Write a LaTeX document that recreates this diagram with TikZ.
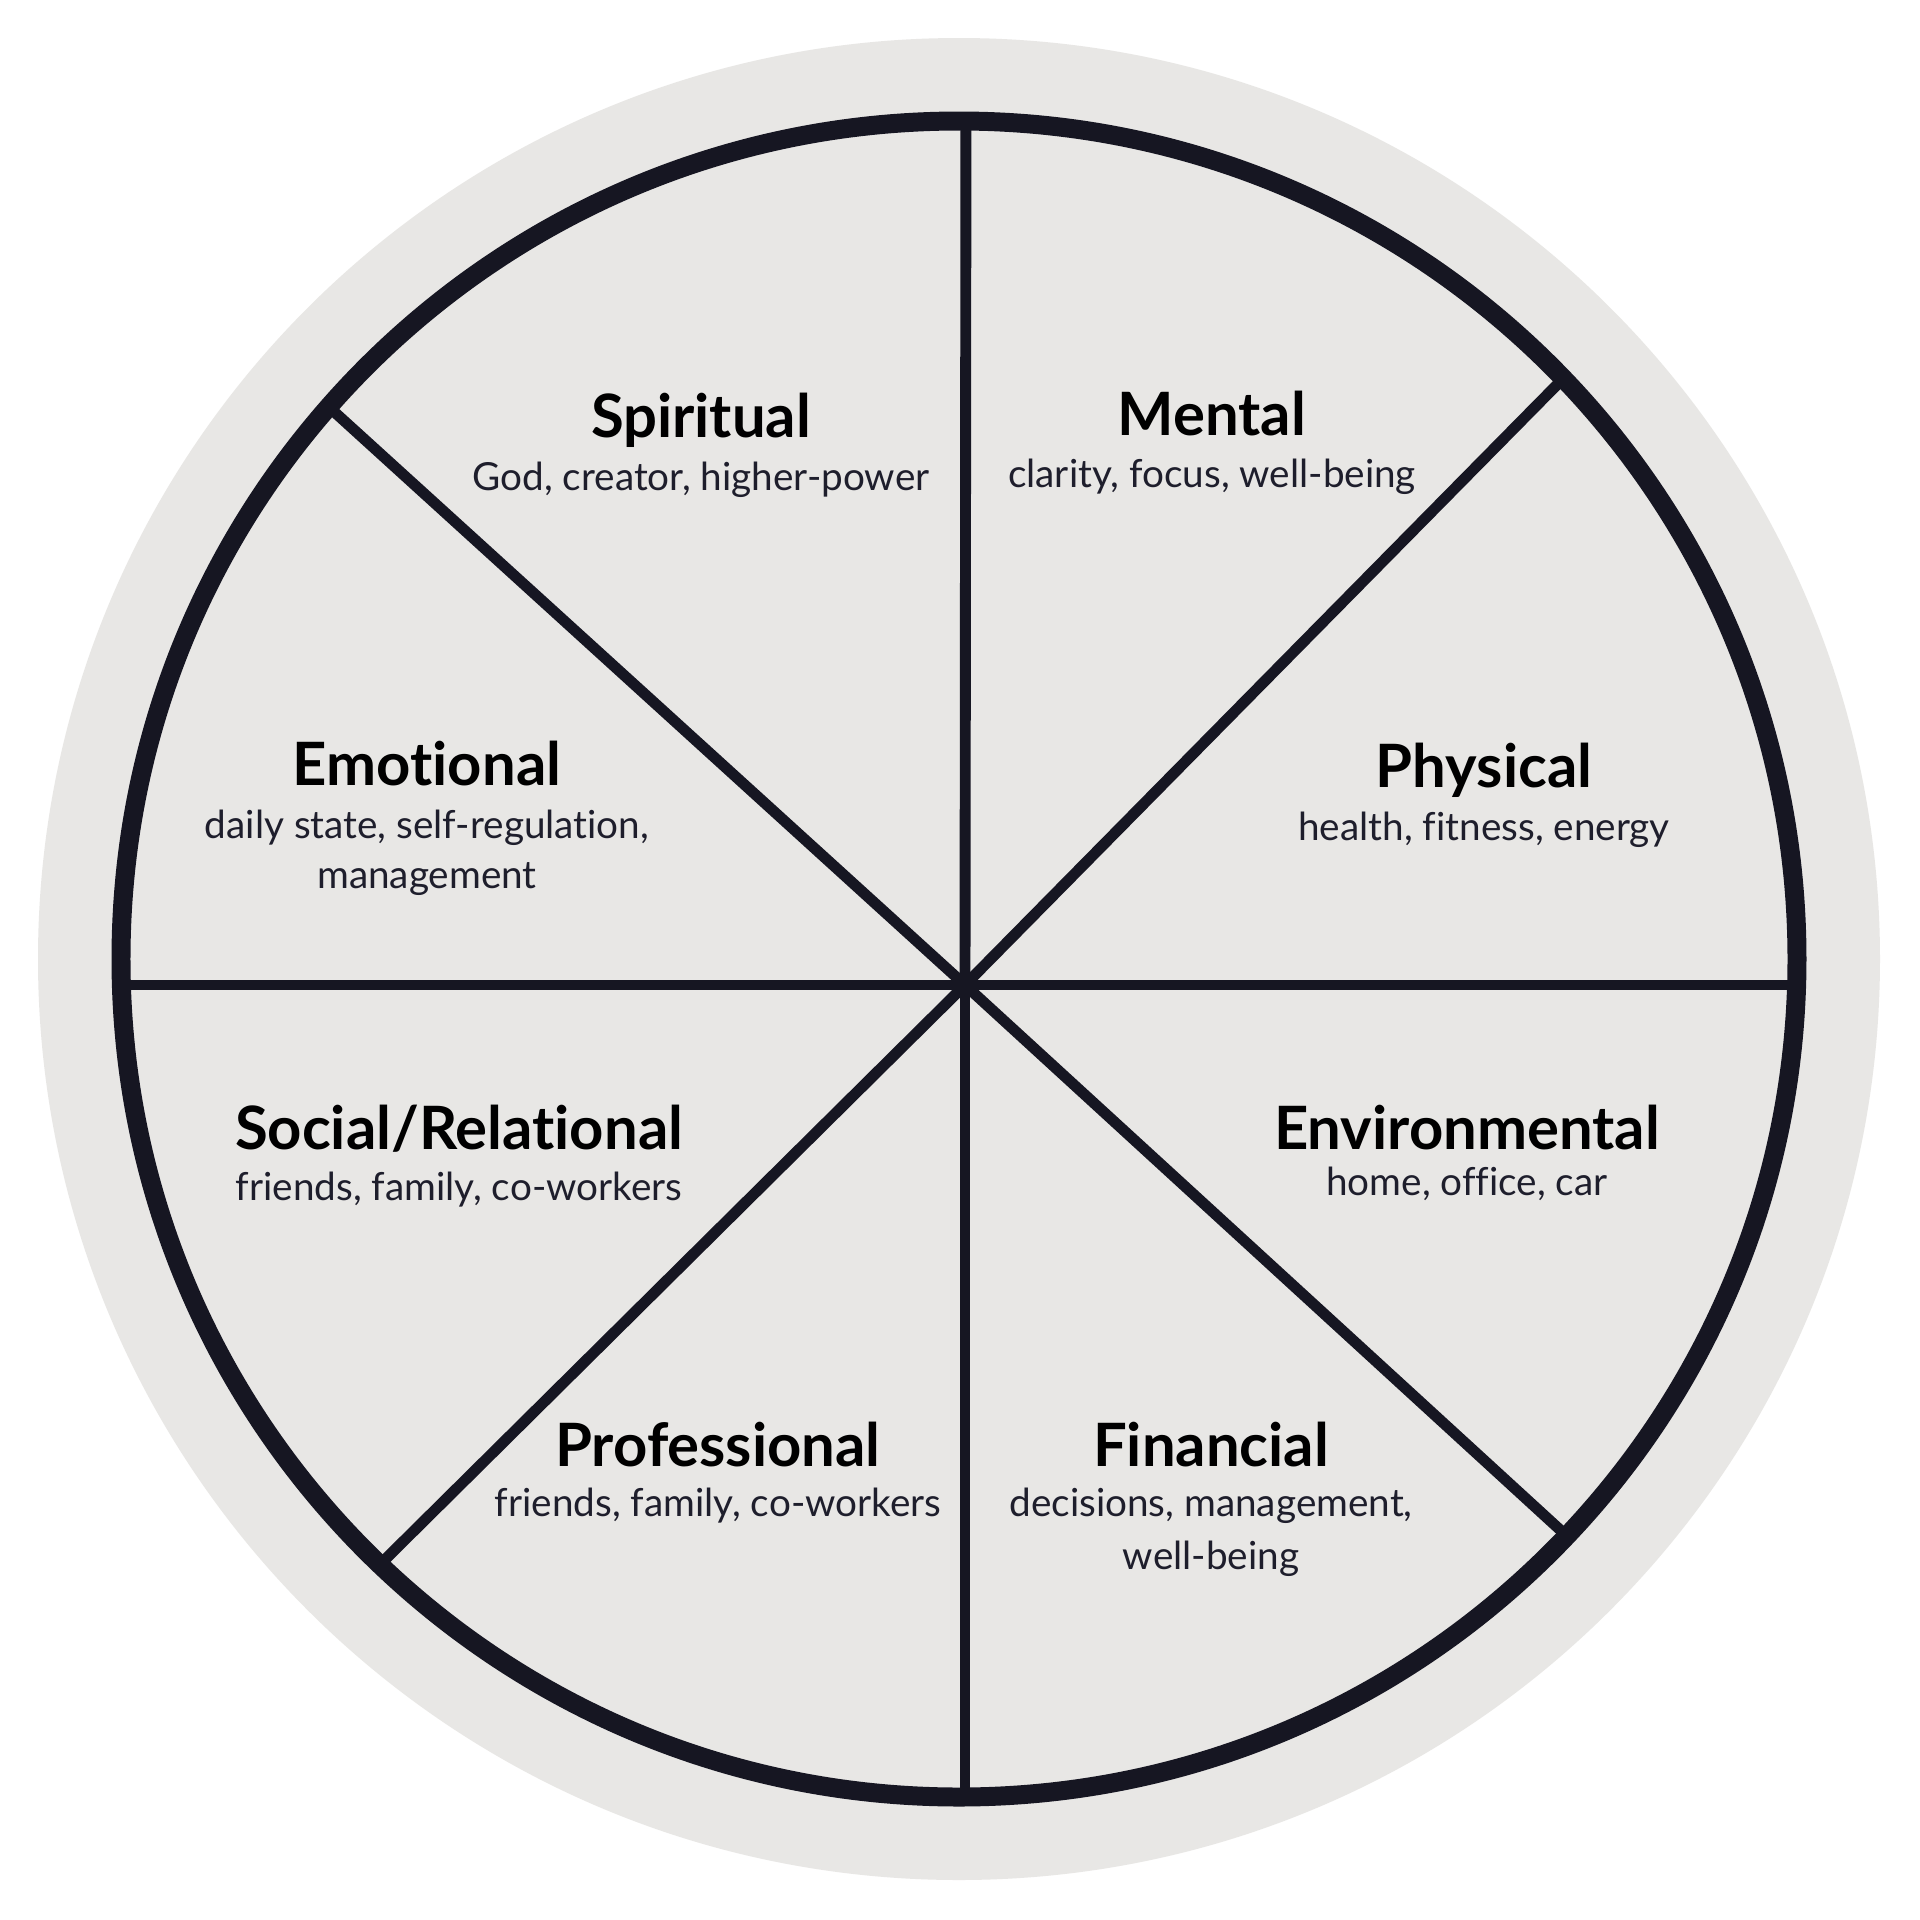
\documentclass[tikz,border=0pt]{standalone}
\usepackage{fontspec}
\setmainfont{Lato}[Ligatures={NoCommon}]
\definecolor{bggray}{RGB}{232,231,229}
\definecolor{ink}{RGB}{22,22,34}
\definecolor{subink}{RGB}{30,30,44}
\begin{document}
\begin{tikzpicture}[x=0.01cm,y=-0.01cm,
  title/.style={anchor=base,inner sep=0pt,font=\fontsize{17}{20}\selectfont\bfseries,text=black},
  sub/.style={anchor=base,inner sep=0pt,font=\fontsize{11}{13}\selectfont,text=subink},
  spoke/.style={draw=ink,line width=3.1pt}]
\useasboundingbox (0,0) rectangle (1920,1920);
\fill[white] (0,0) rectangle (1920,1920);
% outer halo
\fill[bggray] (959,959) circle (921);
% wheel
\fill[bggray] (959,959) circle (838);
\coordinate (c) at (965,985);
\coordinate (eN) at (966,80);
\coordinate (eS) at (965,1840);
\coordinate (eW) at (80,985);
\coordinate (eE) at (1840,985);
\coordinate (eNE) at (1614,327);
\coordinate (eNW) at (275,358);
\coordinate (eSW) at (332,1612);
\coordinate (eSE) at (1616,1581);
\begin{scope}
\clip (959,959) circle (838);
\foreach \e in {eN,eS,eW,eE,eNE,eNW,eSW,eSE}
  \draw[spoke] (c) -- (\e);
\end{scope}
\draw[ink,line width=5.4pt] (959,959) circle (838);
% labels
\node[title] (spT) at (701,437) {Spiritual};
\node[sub] (spS) at (701,490) {God, creator, higher-power};
\node[title] (meT) at (1212,435) {Mental};
\node[sub] (meS) at (1212,487) {clarity, focus, well-being};
\node[title] (emT) at (427,785) {Emotional};
\node[sub] (emS1) at (427,838) {daily state, self-regulation,};
\node[sub] (emS2) at (427,888) {management};
\node[title] (phT) at (1484,787) {Physical};
\node[sub] (phS) at (1484,840) {health, fitness, energy};
\node[title] (soT) at (459,1149) {Social/Relational};
\node[sub] (soS) at (459,1200) {friends, family, co-workers};
\node[title] (enT) at (1467,1149) {Environmental};
\node[sub] (enS) at (1467,1195) {home, office, car};
\node[title] (prT) at (718,1466) {Professional};
\node[sub] (prS) at (718,1516) {friends, family, co-workers};
\node[title] (fiT) at (1211,1466) {Financial};
\node[sub] (fiS1) at (1211,1516) {decisions, management,};
\node[sub] (fiS2) at (1211,1569) {well-being};
\end{tikzpicture}
\end{document}
